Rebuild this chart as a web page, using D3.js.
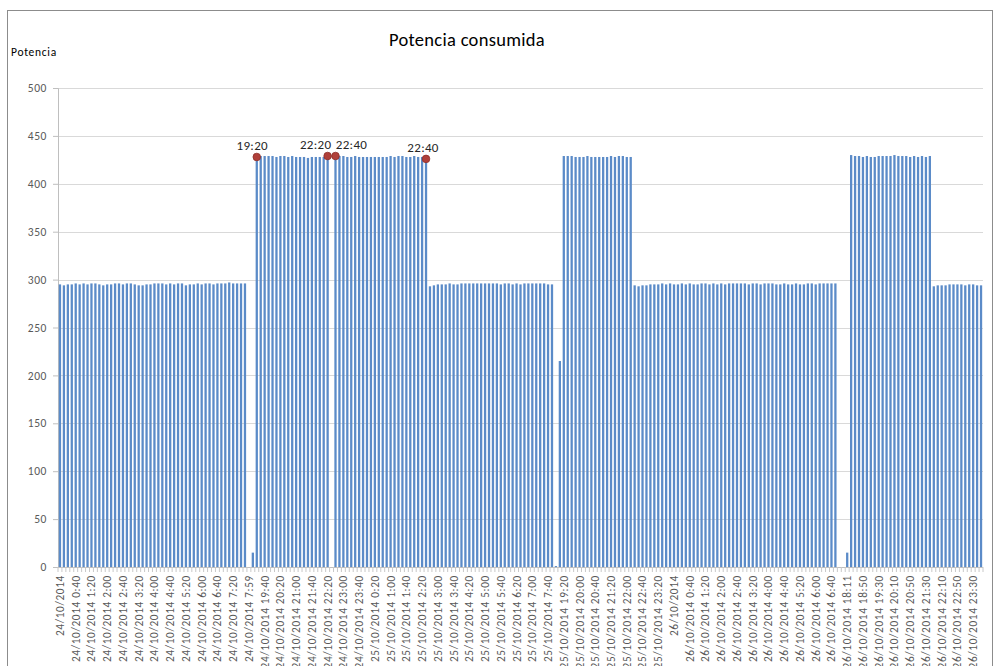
<!DOCTYPE html>
<html>
<head>
<meta charset="utf-8">
<script src="https://cdn.jsdelivr.net/npm/d3@7"></script>
<style>
  html, body { margin: 0; padding: 0; background: #fff; }
  svg { display: block; font-family: Carlito, Lato, "Open Sans", sans-serif; }
</style>
</head>
<body>
<svg id="chart" width="995" height="666"></svg>
<script>
// Potencia consumida, one reading every 10 minutes (24/10/2014 - 26/10/2014)
const values = [
  // 24/10 0:00 - 7:50
  295,294,295,295,296,295,296,295,296,296,
  295,294,295,295,296,296,295,296,296,295,
  294,294,295,295,296,296,296,295,296,295,
  296,296,294,295,295,296,295,296,296,295,
  296,296,296,297,296,296,296,296,
  // 7:59, 19:10
  0,15,
  // 24/10 19:20 - 22:20
  428,429,429,429,429,428,429,429,428,429,
  428,428,428,427,428,428,428,428,429,
  // 22:30
  0,
  // 24/10 22:40 - 25/10 2:30
  429,429,429,428,428,429,428,428,428,428,
  428,428,428,428,429,428,429,429,428,428,
  429,428,428,426,
  // 25/10 2:40 - 7:50
  293,294,295,295,295,296,
  295,295,296,296,296,296,296,296,296,296,
  296,296,295,296,296,295,296,295,296,296,
  296,296,296,296,295,295,
  // gap, 19:10
  1,215,
  // 25/10 19:20 - 22:10
  429,429,429,428,428,428,429,428,428,428,
  428,428,429,428,429,429,428,428,
  // 25/10 22:20 - 26/10 7:00
  294,293,294,294,295,295,295,296,295,296,
  295,295,296,295,296,295,295,296,296,295,
  296,295,296,295,296,296,296,296,296,295,
  296,296,295,296,296,296,295,295,296,295,
  295,296,295,295,296,296,295,296,296,296,
  296,296,
  // gap, 18:11
  0,0,15,
  // 26/10 18:20 - 21:40
  430,429,429,428,429,428,428,429,429,429,
  429,430,429,429,429,428,429,428,429,428,429,
  // 26/10 21:50 - 23:50
  293,294,294,294,295,295,295,295,294,295,295,294,294
];

// Category labels, shown on every 4th reading
const tickLabels = [
  "24/10/2014","24/10/2014 0:40","24/10/2014 1:20","24/10/2014 2:00","24/10/2014 2:40",
  "24/10/2014 3:20","24/10/2014 4:00","24/10/2014 4:40","24/10/2014 5:20","24/10/2014 6:00",
  "24/10/2014 6:40","24/10/2014 7:20","24/10/2014 7:59","24/10/2014 19:40","24/10/2014 20:20",
  "24/10/2014 21:00","24/10/2014 21:40","24/10/2014 22:20","24/10/2014 23:00","24/10/2014 23:40",
  "25/10/2014 0:20","25/10/2014 1:00","25/10/2014 1:40","25/10/2014 2:20","25/10/2014 3:00",
  "25/10/2014 3:40","25/10/2014 4:20","25/10/2014 5:00","25/10/2014 5:40","25/10/2014 6:20",
  "25/10/2014 7:00","25/10/2014 7:40","25/10/2014 19:20","25/10/2014 20:00","25/10/2014 20:40",
  "25/10/2014 21:20","25/10/2014 22:00","25/10/2014 22:40","25/10/2014 23:20","26/10/2014",
  "26/10/2014 0:40","26/10/2014 1:20","26/10/2014 2:00","26/10/2014 2:40","26/10/2014 3:20",
  "26/10/2014 4:00","26/10/2014 4:40","26/10/2014 5:20","26/10/2014 6:00","26/10/2014 6:40",
  "26/10/2014 18:11","26/10/2014 18:50","26/10/2014 19:30","26/10/2014 20:10","26/10/2014 20:50",
  "26/10/2014 21:30","26/10/2014 22:10","26/10/2014 22:50","26/10/2014 23:30"
];
const labelEvery = 4;

const yTicks = [0,50,100,150,200,250,300,350,400,450,500];

// Marked readings at the start/end of the high-consumption periods
const markIndex = [50, 68, 70, 93];
const markText  = ["19:20", "22:20", "22:40", "22:40"];

const svg = d3.select("#chart");
const plotLeft = 58, plotRight = 983, plotTop = 88, plotBottom = 567;

const x = d3.scaleBand()
  .domain(d3.range(values.length))
  .range([plotLeft, plotRight])
  .paddingInner(0.42)
  .paddingOuter(0.21);

const y = d3.scaleLinear().domain([0, 500]).range([plotBottom, plotTop]);

// Chart frame
svg.append("rect")
  .attr("x", 7.5).attr("y", 10.5)
  .attr("width", 985).attr("height", 700)
  .attr("fill", "#fff").attr("stroke", "#8c8c8c").attr("stroke-width", 1);

// Title
svg.append("text")
  .attr("x", 467).attr("y", 46)
  .attr("text-anchor", "middle")
  .attr("font-size", 18.5).attr("fill", "#000")
  .attr("letter-spacing", 0.3)
  .text("Potencia consumida");

// Y axis title
svg.append("text")
  .attr("x", 11).attr("y", 56)
  .attr("font-size", 11.5).attr("fill", "#000")
  .attr("letter-spacing", 0.7)
  .text("Potencia");

// Gridlines
svg.append("g")
  .selectAll("line")
  .data(yTicks.filter(d => d > 0))
  .join("line")
  .attr("x1", plotLeft).attr("x2", plotRight)
  .attr("y1", d => Math.round(y(d)) + 0.5).attr("y2", d => Math.round(y(d)) + 0.5)
  .attr("stroke", "#d9d9d9");

// Y axis
const yAxis = svg.append("g")
  .attr("transform", `translate(${plotLeft},0)`)
  .call(d3.axisLeft(y).tickValues(yTicks).tickSize(5).tickPadding(6));
yAxis.select(".domain").attr("stroke", "#bfbfbf");
yAxis.selectAll(".tick line").attr("stroke", "#bfbfbf");
yAxis.selectAll(".tick text")
  .attr("fill", "#595959").attr("font-size", 11.5)
  .attr("letter-spacing", 0.6)
  .attr("font-family", "Carlito, Lato, sans-serif");

// Bars
svg.append("g")
  .selectAll("rect")
  .data(values)
  .join("rect")
  .attr("x", (d, i) => x(i))
  .attr("width", x.bandwidth())
  .attr("y", d => y(d))
  .attr("height", d => plotBottom - y(d))
  .attr("fill", "#5b8bc8");

// X axis: category ticks and rotated labels
const step = x.step();
const xAxis = svg.append("g").attr("transform", `translate(0,${plotBottom})`);
xAxis.append("line")
  .attr("x1", plotLeft).attr("x2", plotRight)
  .attr("y1", 0.5).attr("y2", 0.5)
  .attr("stroke", "#bfbfbf");
xAxis.selectAll("line.tk")
  .data(d3.range(values.length + 1))
  .join("line")
  .attr("class", "tk")
  .attr("x1", i => plotLeft + i * step).attr("x2", i => plotLeft + i * step)
  .attr("y1", 0).attr("y2", 5)
  .attr("stroke", "#c8c8c8");
xAxis.selectAll("text.lbl")
  .data(tickLabels)
  .join("text")
  .attr("class", "lbl")
  .attr("transform", (d, k) => `translate(${x(k * labelEvery) + x.bandwidth() / 2},8) rotate(-90)`)
  .attr("text-anchor", "end")
  .attr("dy", "0.35em")
  .attr("font-size", 11.3)
  .attr("letter-spacing", 0.65)
  .attr("fill", "#595959")
  .text(d => d);

// Markers and their labels
const labelShift = [-4.5, -12, 16, -3];
const marks = svg.append("g");
marks.selectAll("circle")
  .data(markIndex)
  .join("circle")
  .attr("cx", i => x(i) + x.bandwidth() / 2)
  .attr("cy", i => y(values[i]))
  .attr("r", 3.8)
  .attr("fill", "#b0403a")
  .attr("stroke", "#8e2f2a")
  .attr("stroke-width", 0.8);
marks.selectAll("text")
  .data(markIndex)
  .join("text")
  .attr("x", (i, k) => x(i) + x.bandwidth() / 2 + labelShift[k])
  .attr("y", i => y(values[i]) - 7)
  .attr("text-anchor", "middle")
  .attr("font-size", 13)
  .attr("letter-spacing", 0.3)
  .attr("fill", "#262626")
  .text((i, k) => markText[k]);
</script>
</body>
</html>
